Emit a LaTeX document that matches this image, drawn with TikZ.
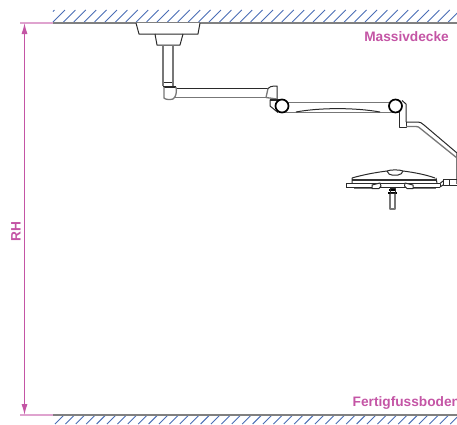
\documentclass[tikz,border=0pt]{standalone}
\usepackage{fontspec}
\setmainfont{Liberation Sans}
\usetikzlibrary{arrows.meta}
\definecolor{dim}{HTML}{C455A5}
\definecolor{dimlight}{HTML}{DFA3CF}
\definecolor{hatch}{HTML}{4A6DB5}
\definecolor{slab}{HTML}{808080}
\definecolor{mach}{HTML}{2A2A2A}
\definecolor{machlight}{HTML}{777777}
\tikzset{
  hatchline/.style={draw=hatch,line width=0.9pt},
  slabline/.style={draw=slab,line width=1.7pt},
  extline/.style={draw=dimlight,line width=1.6pt},
  dimline/.style={draw=dim,line width=1.1pt},
  dimlabel/.style={text=dim,font=\bfseries\fontsize{13.7}{14}\selectfont,inner sep=0pt},
  machine/.style={draw=mach,line width=1pt,line join=round},
  machinelight/.style={draw=machlight,line width=1.3pt,line join=round},
  joint/.style={draw=black,line width=1.7pt,fill=white,circle,minimum size=13pt,inner sep=0pt}
}
\begin{document}
\begin{tikzpicture}[x=1pt,y=-1pt]
\useasboundingbox (0,0) rectangle (457,424);
\clip (0,0) rectangle (457,424);
% hatching
\draw[hatchline] (53,11.5) -- (54.5,10);
\foreach \x in {53,63.4,...,460}{
  \draw[hatchline] (\x,22) -- (\x+12,10);
  \draw[hatchline] (\x+2,424) -- (\x+11,415);
}
\coordinate (ctl) at (20,23);
\coordinate (ctm) at (53,23);
\coordinate (ctr) at (457,23);
\coordinate (fll) at (20,415);
\coordinate (flm) at (53,415);
\coordinate (flr) at (457,415);
\coordinate (dimt) at (24.5,23);
\coordinate (dimb) at (24.5,415);
\draw[slabline] (ctm) -- (ctr);
\draw[slabline] (flm) -- (flr);
\draw[extline] (ctl) -- (ctm);
\draw[extline] (fll) -- (flm);
\draw[dimline,{Latex[length=11pt,width=6pt]}-{Latex[length=11pt,width=6pt]}] (dimt) -- (dimb);
\node[dimlabel,rotate=90] (rh) at (16,231.5) {RH};
\node[dimlabel,anchor=east] (decke) at (449,36.5) {Massivdecke};
\node[dimlabel,anchor=west] (boden) at (352.5,403) {Fertigfussboden};
% ceiling plate
\draw[machine,fill=white] (136,23) -- (139,34) -- (198,34) -- (200,23);
\draw[machine] (155,34) -- (157,45) -- (180,45) -- (183,34);
% column
\draw[machinelight,line width=1.5pt] (163,45) -- (163,82);
\draw[machinelight,line width=1.5pt] (173,45) -- (173,82);
\draw[machine] (163,82) -- (173,82) (163,86) -- (173,86);
\draw[machinelight] (163,82) -- (163,86) (173,82) -- (173,86);
% elbow
\draw[machine,line width=1.3pt] (164,87) -- (176,87);
\draw[machinelight] (164,87) -- (164,98) .. controls (165,99.5) and (170,100) .. (173,99) .. controls (176,97) and (177,92) .. (176,87);
% first arm
\draw[machine] (177,88.5) -- (268,88.5);
\draw[machinelight,line width=1.5pt] (174,97.5) -- (266,97.5);
\draw[machine] (268,88.5) .. controls (269,87) and (271,86) .. (277,86) -- (277,100);
\draw[machinelight] (268,88.5) -- (266,97.5) (266,97.5) -- (277,99);
% knuckle left
\draw[machine] (270,99.5) -- (270,106) -- (278,112.5);
\draw[machine,line width=1.4pt] (270,100) -- (281,100);
% second arm
\draw[machinelight,line width=1.5pt] (282,102.5) -- (395,102.5);
\draw[machinelight,line width=0.9pt] (282,112) -- (395,112);
\draw[machine] (296,112) .. controls (320,107.5) and (355,107.5) .. (380,112);
\node[joint] (j1) at (282,106) {};
\node[joint] (j2) at (395.5,106) {};
% hanger
\draw[machine] (402,100.5) -- (406,104) -- (406,122);
\draw[machine] (399,112) -- (399,127) -- (406,127) -- (406,122);
% spring arm
\draw[machine] (406,122) -- (418,122) .. controls (420,122) and (422,123) .. (424,125) -- (457,153);
\draw[machinelight] (406,126.5) -- (416,126.5) .. controls (418,126.5) and (419,127) .. (421,129) -- (457,158);
% lamp yoke
\draw[machinelight] (456.5,153) -- (456.5,184);
\draw[machine,fill=white] (443,179) rectangle (449,185);
\draw[machine] (449,179.5) -- (457,179.5) (449,185) -- (457,185);
\draw[machine] (440,183.5) -- (443,181) (440,187) -- (443,185);
% lamp head
\draw[machine] (352,178) .. controls (362,175) and (375,172.5) .. (387,171) (403,171) .. controls (415,172.5) and (427,175) .. (435,178);
\draw[machine] (387,171) .. controls (388,174) and (390,175) .. (392,175) -- (398,175) .. controls (401,175) and (402,173) .. (403,171);
\draw[machine] (387,171) .. controls (390,169.5) and (400,169.5) .. (403,171);
\draw[black!80,line width=2.6pt] (352,180) -- (436,180);
\draw[machine] (352,178) -- (352,183) (436,178) -- (437,183);
\draw[machine] (346,183.5) -- (440,183.5) (346,187) -- (440,187) (346,183.5) -- (346,187) (440,183.5) -- (440,187);
\draw[machinelight,line width=1.5pt] (354,188.5) -- (376,188.5) (408,188.5) -- (436,188.5);
% handles on the head
\draw[machine,fill=white] (372,185) -- (380,183) -- (381,186) -- (379,188.5) -- (372,188.5) -- cycle;
\draw[machine,fill=white] (405,183) -- (413,185) -- (413,188.5) -- (407,188.5) -- (404.5,186) -- cycle;
% sterile handle
\draw[black,line width=1.4pt] (389,190) -- (396,190) (388,193) -- (397,193);
\draw[machine] (390,188) -- (395,188) -- (395,193) -- (390,193) -- cycle;
\draw[machinelight,line width=1.4pt] (390,194) -- (390,209) -- (395,209) -- (395,194);
\end{tikzpicture}
\end{document}
